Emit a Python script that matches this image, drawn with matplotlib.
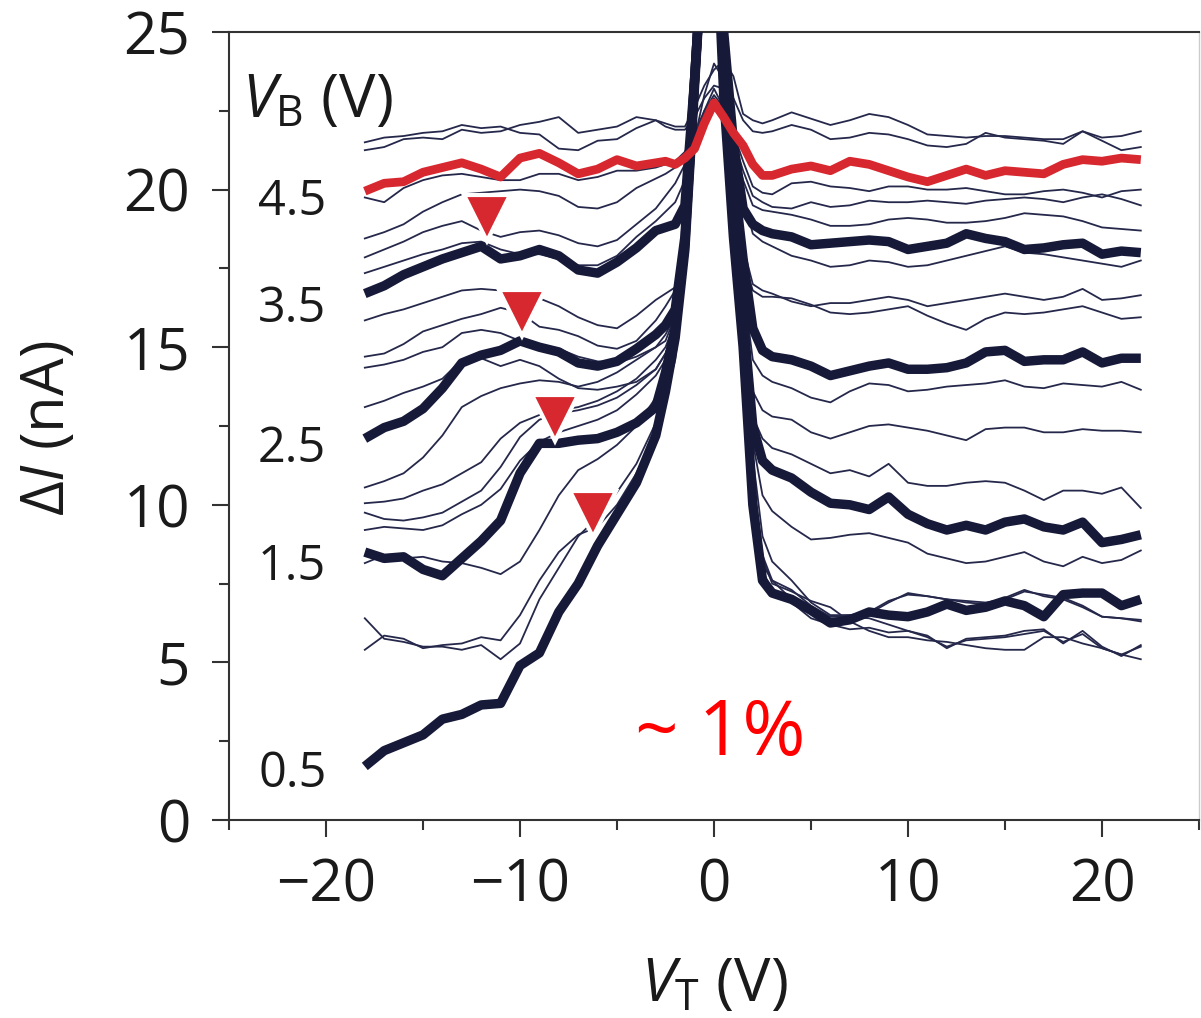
import matplotlib
matplotlib.use("Agg")
from matplotlib import pyplot as plt

plt.rcParams['font.family'] = ['Open Sans', 'DejaVu Sans']
plt.rcParams['mathtext.fontset'] = 'custom'
plt.rcParams['mathtext.rm'] = 'Open Sans'
plt.rcParams['mathtext.it'] = 'Open Sans:italic'

NAVY = '#161938'
THIN = '#25284a'
RED = '#d7282f'

# top-gate voltage grid (V)
VT = [-18, -17, -16, -15, -14, -13, -12, -11, -10, -9, -8, -7, -6, -5, -4, -3,
      -2.5, -2, -1.5, -1, -0.5, 0, 0.5, 1, 1.5, 2, 2.5,
      3, 4, 5, 6, 7, 8, 9, 10, 11, 12, 13, 14, 15, 16, 17, 18, 19, 20, 21, 22]

# highlighted traces, delta I (nA)
vb_05 = [1.7, 2.2, 2.45, 2.7, 3.2, 3.35, 3.65, 3.7, 4.9, 5.3, 6.6, 7.5, 8.7, 9.7, 10.7, 12.2,
         13.6, 15.3, 18.1, 23.3, 28.5, 30.0, 23.0, 18.5, 15.0, 10.0, 7.6,
         7.2, 7.0, 6.65, 6.25, 6.35, 6.6, 6.5, 6.45, 6.6, 6.85, 6.65, 6.75, 6.95, 6.8, 6.45, 7.15, 7.2, 7.2, 6.8, 7.0]
vb_15 = [8.5, 8.3, 8.35, 7.95, 7.75, 8.3, 8.85, 9.5, 11.0, 11.95, 11.95, 12.05, 12.1, 12.3, 12.6, 13.1,
         14.2, 15.6, 18.3, 23.5, 28.5, 31.0, 23.5, 19.5, 16.0, 12.5, 11.4,
         11.1, 10.85, 10.4, 10.05, 10.0, 9.85, 10.25, 9.7, 9.4, 9.2, 9.35, 9.2, 9.45, 9.55, 9.3, 9.2, 9.45, 8.8, 8.9, 9.05]
vb_25 = [12.1, 12.45, 12.65, 13.05, 13.7, 14.5, 14.75, 14.9, 15.2, 15.0, 14.85, 14.5, 14.4, 14.55, 14.95, 15.4,
         15.7, 16.2, 18.5, 23.5, 28.5, 31.0, 24.5, 20.5, 17.8, 15.6, 14.9,
         14.7, 14.6, 14.4, 14.1, 14.25, 14.4, 14.5, 14.3, 14.3, 14.35, 14.5, 14.85, 14.9, 14.55, 14.6, 14.6, 14.85, 14.5, 14.65, 14.65]
vb_35 = [16.7, 16.95, 17.3, 17.55, 17.8, 18.0, 18.2, 17.8, 17.9, 18.1, 17.9, 17.45, 17.35, 17.7, 18.15, 18.7,
         18.8, 18.9, 19.5, 23.5, 28.5, 30.5, 25.0, 21.5, 19.4, 18.9, 18.7,
         18.6, 18.5, 18.25, 18.3, 18.35, 18.4, 18.35, 18.1, 18.2, 18.3, 18.6, 18.45, 18.35, 18.1, 18.15, 18.25, 18.3, 17.95, 18.05, 18.0]
vb_45 = [19.95, 20.2, 20.25, 20.55, 20.7, 20.85, 20.65, 20.4, 21.0, 21.15, 20.85, 20.5, 20.65, 20.95, 20.75, 20.85,
         20.9, 20.8, 21.0, 21.3, 22.1, 22.75, 22.3, 21.8, 21.4, 20.8, 20.45,
         20.45, 20.65, 20.75, 20.6, 20.9, 20.8, 20.6, 20.4, 20.25, 20.45, 20.65, 20.45, 20.6, 20.55, 20.5, 20.8, 20.95, 20.9, 21.0, 20.95]

# intermediate traces
thin_47 = [21.5, 21.65, 21.7, 21.8, 21.85, 22.05, 21.95, 22.0, 21.8, 21.75, 21.3, 21.25, 21.55, 21.6, 21.95, 22.2,
           22.1, 22.0, 22.0, 22.6, 23.3, 23.8, 24.1, 23.6, 22.4, 22.2, 22.1,
           22.2, 22.45, 22.25, 22.05, 22.2, 22.4, 22.3, 22.05, 21.75, 21.7, 21.65, 21.7, 21.7, 21.65, 21.6, 21.6, 21.85, 21.55, 21.25, 21.35]
thin_46 = [21.25, 21.35, 21.6, 21.65, 21.6, 21.9, 21.8, 21.85, 22.05, 22.15, 22.3, 21.8, 21.9, 22.0, 22.3, 22.2,
           22.0, 21.9, 21.9, 22.3, 22.9, 23.3, 23.2, 22.9, 22.2, 21.85, 21.8,
           21.85, 22.05, 21.9, 21.6, 21.65, 21.8, 21.75, 21.6, 21.4, 21.35, 21.45, 21.8, 21.65, 21.6, 21.55, 21.45, 21.85, 21.65, 21.7, 21.85]
thin_44 = [19.75, 19.6, 20.05, 20.3, 20.45, 20.5, 20.4, 20.3, 20.3, 20.5, 20.5, 20.3, 20.4, 20.6, 20.6, 20.7,
           20.8, 20.9, 21.2, 21.8, 22.5, 23.0, 22.6, 21.8, 20.9, 20.1, 19.9,
           19.85, 20.2, 20.25, 20.1, 20.05, 19.95, 20.1, 20.1, 20.0, 20.0, 20.05, 19.95, 19.85, 19.85, 19.95, 20.0, 19.9, 19.75, 19.95, 20.0]
thin_43 = [18.45, 18.65, 18.9, 19.3, 19.6, 19.85, 19.9, 19.95, 20.0, 19.95, 19.8, 19.45, 19.4, 19.6, 20.05, 20.35,
           20.5, 20.7, 21.0, 21.7, 22.4, 22.9, 22.4, 21.6, 20.6, 19.8, 19.6,
           19.45, 19.4, 19.6, 19.45, 19.5, 19.65, 19.6, 19.6, 19.65, 19.6, 19.55, 19.65, 19.7, 19.75, 19.7, 19.6, 19.75, 19.85, 19.7, 19.5]
thin_42 = [17.85, 18.1, 18.35, 18.65, 18.85, 19.0, 18.7, 18.5, 18.65, 18.7, 18.55, 18.3, 18.2, 18.4, 18.9, 19.4,
           19.8, 20.2, 20.8, 21.6, 22.5, 23.2, 22.6, 21.5, 20.3, 19.5, 19.35,
           19.3, 19.2, 19.05, 18.85, 18.85, 18.9, 19.05, 19.1, 19.05, 18.95, 18.95, 19.0, 19.1, 19.25, 19.2, 19.15, 19.0, 18.8, 18.75, 18.7]
thin_41 = [17.35, 17.55, 17.75, 17.95, 18.1, 18.3, 18.35, 18.1, 17.95, 17.95, 17.8, 17.6, 17.6, 17.9, 18.5, 19.0,
           19.3, 19.6, 20.3, 21.6, 23.0, 24.0, 23.5, 22.0, 19.8, 18.6, 18.35,
           18.2, 17.9, 17.75, 17.55, 17.6, 17.75, 17.7, 17.55, 17.6, 17.75, 17.9, 18.05, 18.2, 18.0, 17.95, 17.85, 17.75, 17.65, 17.55, 17.75]
thin_34 = [15.85, 16.05, 16.2, 16.4, 16.6, 16.8, 16.85, 16.8, 16.7, 16.55, 16.3, 15.95, 15.7, 15.6, 16.0, 16.5,
           16.7, 16.9, 18.5, 22.5, 27.5, 29.0, 24.5, 21.0, 18.2, 17.0, 16.8,
           16.7, 16.45, 16.3, 16.4, 16.4, 16.5, 16.6, 16.5, 16.3, 16.4, 16.5, 16.6, 16.7, 16.6, 16.5, 16.6, 16.85, 16.5, 16.55, 16.65]
thin_33 = [14.7, 14.8, 15.1, 15.5, 15.7, 15.9, 16.05, 16.25, 16.1, 15.65, 15.55, 15.35, 15.05, 14.95, 15.2, 15.85,
           16.3, 16.8, 18.5, 22.5, 27.5, 29.0, 24.5, 20.8, 17.8, 16.8, 16.6,
           16.6, 16.55, 16.35, 16.1, 16.05, 16.1, 16.2, 16.3, 16.0, 15.75, 15.55, 15.9, 16.1, 16.05, 16.1, 16.2, 16.3, 16.1, 15.9, 15.95]
thin_32 = [14.35, 14.45, 14.6, 14.85, 15.0, 15.45, 15.55, 15.45, 15.2, 15.1, 14.95, 14.7, 14.55, 14.5, 14.7, 15.0,
           15.2, 16.0, 18.2, 22.5, 27.5, 29.0, 24.0, 20.5, 17.0, 14.6, 14.1,
           13.9, 13.7, 13.4, 13.25, 13.6, 13.85, 13.8, 13.6, 13.65, 13.75, 13.8, 13.85, 13.95, 13.75, 13.7, 13.85, 13.8, 13.75, 13.9, 13.65]
thin_31 = [13.1, 13.3, 13.55, 13.75, 14.0, 14.6, 14.65, 14.4, 14.6, 14.4, 14.0, 13.7, 13.65, 13.75, 13.9, 14.3,
           14.8, 15.6, 18.0, 22.5, 27.5, 29.0, 24.0, 20.0, 16.5, 13.6, 13.0,
           12.8, 12.7, 12.3, 12.1, 12.3, 12.5, 12.55, 12.45, 12.35, 12.2, 12.05, 12.4, 12.45, 12.45, 12.3, 12.3, 12.4, 12.35, 12.35, 12.3]
thin_24 = [10.55, 10.75, 11.0, 11.5, 12.2, 13.1, 13.45, 13.7, 13.85, 13.95, 13.9, 13.75, 13.9, 14.2, 14.6, 15.0,
           15.4, 16.0, 18.0, 22.5, 27.5, 29.0, 24.0, 20.0, 16.2, 12.8, 12.1,
           11.8, 11.6, 11.3, 11.0, 11.1, 10.9, 11.3, 10.7, 10.6, 10.6, 10.7, 10.75, 10.7, 10.45, 10.15, 10.45, 10.45, 10.35, 10.55, 9.9]
thin_23 = [10.05, 10.1, 10.2, 10.45, 10.65, 11.0, 11.35, 12.1, 12.6, 12.85, 13.0, 13.1, 13.3, 13.6, 14.0, 14.6,
           15.0, 15.8, 18.0, 22.5, 27.5, 29.0, 23.5, 19.5, 16.0, 12.0, 10.3,
           9.8, 9.3, 8.9, 8.95, 9.05, 9.1, 8.95, 8.8, 8.45, 8.3, 8.15, 8.2, 8.35, 8.5, 8.2, 8.05, 8.35, 8.15, 8.25, 8.55]
thin_22 = [9.75, 9.55, 9.5, 9.6, 9.75, 10.1, 10.45, 11.2, 12.15, 12.7, 12.9, 13.0, 13.15, 13.4, 13.8, 14.3,
           14.8, 15.6, 18.0, 22.5, 27.5, 29.0, 23.5, 19.5, 15.8, 11.5, 9.0,
           8.2, 7.6, 6.9, 6.5, 6.5, 6.6, 6.95, 7.15, 7.1, 7.0, 6.95, 6.9, 7.0, 7.25, 7.15, 7.05, 6.8, 6.45, 6.4, 6.35]
thin_21 = [9.2, 9.3, 9.25, 9.2, 9.35, 9.7, 10.0, 10.5, 11.4, 12.0, 12.3, 12.5, 12.7, 13.0, 13.5, 14.1,
           14.6, 15.4, 18.0, 22.5, 27.5, 29.0, 23.5, 19.0, 15.5, 11.0, 8.4,
           7.6, 7.0, 6.6, 6.45, 6.45, 6.4, 6.2, 6.0, 5.85, 5.45, 5.75, 5.8, 5.85, 6.0, 6.05, 5.6, 6.0, 5.5, 5.2, 5.55]
thin_14 = [8.15, 8.4, 8.3, 8.35, 8.2, 8.15, 8.0, 7.8, 8.2, 9.2, 10.3, 11.1, 11.45, 11.9, 12.5, 13.4,
           14.2, 15.2, 17.8, 22.5, 27.5, 29.0, 23.5, 19.0, 15.3, 10.6, 8.3,
           7.5, 7.25, 6.95, 6.75, 6.3, 6.0, 5.8, 5.8, 5.7, 5.65, 5.55, 5.45, 5.4, 5.4, 5.8, 5.8, 5.6, 5.45, 5.25, 5.1]
thin_13 = [6.4, 5.75, 5.65, 5.5, 5.5, 5.4, 5.55, 5.1, 5.6, 7.0, 8.0, 9.0, 9.6, 10.4, 11.3, 12.6,
           13.6, 14.8, 17.5, 22.0, 27.5, 29.0, 23.5, 19.0, 15.2, 10.4, 8.1,
           7.6, 7.3, 6.8, 6.45, 6.5, 6.55, 6.9, 7.2, 7.1, 7.0, 6.9, 6.85, 7.05, 7.3, 7.1, 7.0, 6.75, 6.45, 6.4, 6.3]
thin_12 = [5.4, 5.85, 5.75, 5.45, 5.55, 5.6, 5.8, 5.7, 6.5, 7.6, 8.5, 9.05, 9.3, 10.0, 11.0, 12.3,
           13.4, 14.6, 17.3, 22.0, 27.5, 29.0, 23.5, 19.0, 15.1, 10.2, 7.9,
           7.3, 6.9, 6.4, 6.2, 6.05, 6.1, 5.95, 6.0, 5.8, 5.5, 5.7, 5.75, 5.8, 5.9, 6.0, 5.65, 5.9, 5.45, 5.25, 5.5]

# V_B labels next to the traces
vb_labels = ['4.5', '3.5', '2.5', '1.5', '0.5']
vb_label_y = [19.2, 15.8, 11.35, 7.6, 1.05]

# kink positions (triangles)
kink_vt = [-11.7, -9.9, -8.2, -6.25]
kink_di = [19.1, 16.1, 12.75, 9.7]

thin_traces = [thin_47, thin_46, thin_44, thin_43, thin_42, thin_41, thin_34, thin_33,
               thin_32, thin_31, thin_24, thin_23, thin_22, thin_21, thin_14, thin_13, thin_12]
thick_traces = [vb_05, vb_15, vb_25, vb_35]

fig = plt.figure(figsize=(12.01, 10.18), dpi=100)
ax = fig.add_axes([229 / 1201, 1 - 820 / 1018, 970 / 1201, 788 / 1018])

for ys in thin_traces:
    ax.plot(VT, ys, color=THIN, lw=1.3, zorder=2)
for ys in thick_traces:
    ax.plot(VT, ys, color=NAVY, lw=6.8, zorder=3,
            solid_joinstyle='round', solid_capstyle='butt')
ax.plot(VT, vb_45, color=RED, lw=6.3, zorder=4,
        solid_joinstyle='round', solid_capstyle='butt')

ax.plot(kink_vt, kink_di, 'v', ms=33, mfc=RED, mec='white', mew=3,
        ls='none', zorder=5)

for lab, y in zip(vb_labels, vb_label_y):
    ax.text(-23.5, y, lab, fontsize=35, color='#1a1a1a', va='baseline', ha='left')
ax.text(-24.35, 22.3, r'$V_{\mathrm{B}}$ (V)', fontsize=44, color='#1a1a1a',
        va='baseline', ha='left')
ax.text(0.3, 2.05, '~ 1%', fontsize=55, color='#ff0000', va='baseline', ha='center')

ax.set_xlim(-25, 25)
ax.set_ylim(0, 25)
ax.set_xticks([-20, -10, 0, 10, 20])
ax.set_xticks([-25, -15, -5, 5, 15, 25], minor=True)
ax.set_yticks([0, 5, 10, 15, 20, 25])
ax.set_yticks([2.5, 7.5, 12.5, 17.5, 22.5], minor=True)

ax.tick_params(which='both', direction='out', width=1.5, colors='#333333',
               labelcolor='#1a1a1a', labelsize=42)
ax.tick_params(which='major', length=12)
ax.tick_params(which='minor', length=7)
ax.tick_params(axis='x', pad=15)
ax.tick_params(axis='y', pad=16)

for side in ['left', 'top', 'bottom']:
    ax.spines[side].set_linewidth(1.5)
    ax.spines[side].set_color('#333333')
ax.spines['right'].set_linewidth(1.0)
ax.spines['right'].set_color('#cccccc')

ax.set_ylabel(r'$\Delta\mathit{I}$ (nA)', fontsize=43, color='#1a1a1a', va='center')
ax.yaxis.set_label_coords(-0.187, 0.497)
ax.set_xlabel(r'$V_{\mathrm{T}}$ (V)', fontsize=44, color='#1a1a1a', va='center')
ax.xaxis.set_label_coords(0.5, -0.209)

fig.savefig('out.png', dpi=100)
